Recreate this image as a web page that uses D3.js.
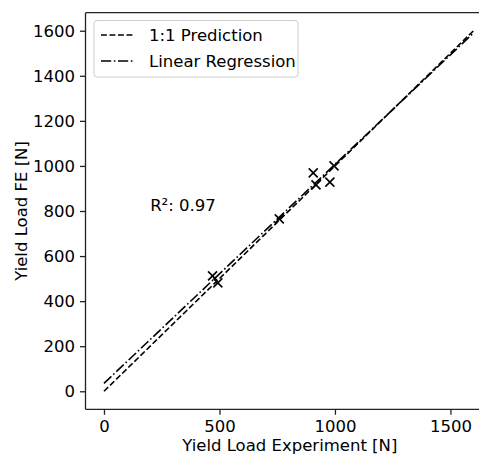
<!DOCTYPE html>
<html><head><meta charset="utf-8">
<script src="https://cdn.jsdelivr.net/npm/d3@7"></script>
<style>body{margin:0;background:#fff}svg{display:block;font-family:"DejaVu Sans",sans-serif}</style>
</head><body><svg id="c" width="479" height="455"></svg>
<script>
const expLoad = [470, 493, 759, 906, 918, 978, 996];
const feLoad  = [512, 481, 765, 969, 916, 928, 1000];
const xTicks = [0, 500, 1000, 1500];
const yTicks = [0, 200, 400, 600, 800, 1000, 1200, 1400, 1600];
const lineRange = [0, 1600];
const regSlope = 0.972, regIntercept = 35;
const r2Text = "R²: 0.97";
const legendLabels = ["1:1 Prediction", "Linear Regression"];

const svg = d3.select("#c");
const L = 85.5, R = 492, T = 12.7, B = 409.3;
const x = d3.scaleLinear().domain([-80, 1680]).range([L, R]);
const y = d3.scaleLinear().domain([-80, 1680]).range([B, T]);
const fs = 16.5;

// lines
const line = d3.line().x(d => x(d[0])).y(d => y(d[1]));
svg.append("path").attr("d", line(lineRange.map(v => [v, v])))
  .attr("fill", "none").attr("stroke", "#000").attr("stroke-width", 1.6).attr("stroke-dasharray", "5.9,2.6");
svg.append("path").attr("d", line(lineRange.map(v => [v, regIntercept + regSlope * v])))
  .attr("fill", "none").attr("stroke", "#000").attr("stroke-width", 1.6).attr("stroke-dasharray", "10.2,2.6,1.6,2.6");

// markers
const ms = 4.5;
const pts = svg.append("g");
expLoad.forEach((v, i) => {
  const cx = x(v), cy = y(feLoad[i]);
  pts.append("path").attr("d", `M${cx-ms},${cy-ms}L${cx+ms},${cy+ms}M${cx-ms},${cy+ms}L${cx+ms},${cy-ms}`)
    .attr("stroke", "#000").attr("stroke-width", 1.6);
});

// R2 text
svg.append("text").attr("x", x(200)).attr("y", y(800)).attr("font-size", fs).attr("fill", "#000").text(r2Text);

// spines
svg.append("line").attr("x1", L).attr("x2", L).attr("y1", T).attr("y2", B).attr("stroke", "#222").attr("stroke-width", 1.3);
svg.append("line").attr("x1", L).attr("x2", R).attr("y1", B).attr("y2", B).attr("stroke", "#222").attr("stroke-width", 1.3);
svg.append("line").attr("x1", L).attr("x2", R).attr("y1", T).attr("y2", T).attr("stroke", "#222").attr("stroke-width", 1.3);
svg.append("line").attr("x1", R).attr("x2", R).attr("y1", T).attr("y2", B).attr("stroke", "#222").attr("stroke-width", 1.3);

// axes
const xa = svg.append("g").attr("transform", `translate(0,${B})`)
  .call(d3.axisBottom(x).tickValues(xTicks).tickSize(5.5).tickPadding(5).tickFormat(d3.format("d")));
const ya = svg.append("g").attr("transform", `translate(${L},0)`)
  .call(d3.axisLeft(y).tickValues(yTicks).tickSize(5.5).tickPadding(5).tickFormat(d3.format("d")));
[xa, ya].forEach(a => {
  a.select(".domain").remove();
  a.selectAll("text").attr("font-size", fs).attr("font-family", "DejaVu Sans").attr("fill", "#000");
  a.selectAll("line").attr("stroke", "#222").attr("stroke-width", 1.3);
});

svg.append("text").attr("x", (L + R) / 2 + 1).attr("y", 451).attr("text-anchor", "middle")
  .attr("font-size", fs).text("Yield Load Experiment [N]");
svg.append("text").attr("transform", `translate(27,${(T + B) / 2}) rotate(-90)`).attr("text-anchor", "middle")
  .attr("font-size", fs).text("Yield Load FE [N]");

// legend
const lg = svg.append("g");
lg.append("rect").attr("x", 94).attr("y", 20.5).attr("width", 204).attr("height", 56.5).attr("rx", 3)
  .attr("fill", "#fff").attr("fill-opacity", 0.8).attr("stroke", "#ccc").attr("stroke-width", 1);
const dashes = ["5.9,2.6", "10.2,2.6,1.6,2.6"];
legendLabels.forEach((t, i) => {
  const yy = 35 + i * 26;
  lg.append("line").attr("x1", 101).attr("x2", 135).attr("y1", yy).attr("y2", yy)
    .attr("stroke", "#000").attr("stroke-width", 1.6).attr("stroke-dasharray", dashes[i]);
  lg.append("text").attr("x", 149).attr("y", yy).attr("dy", "0.35em").attr("font-size", fs).text(t);
});
</script></body></html>
